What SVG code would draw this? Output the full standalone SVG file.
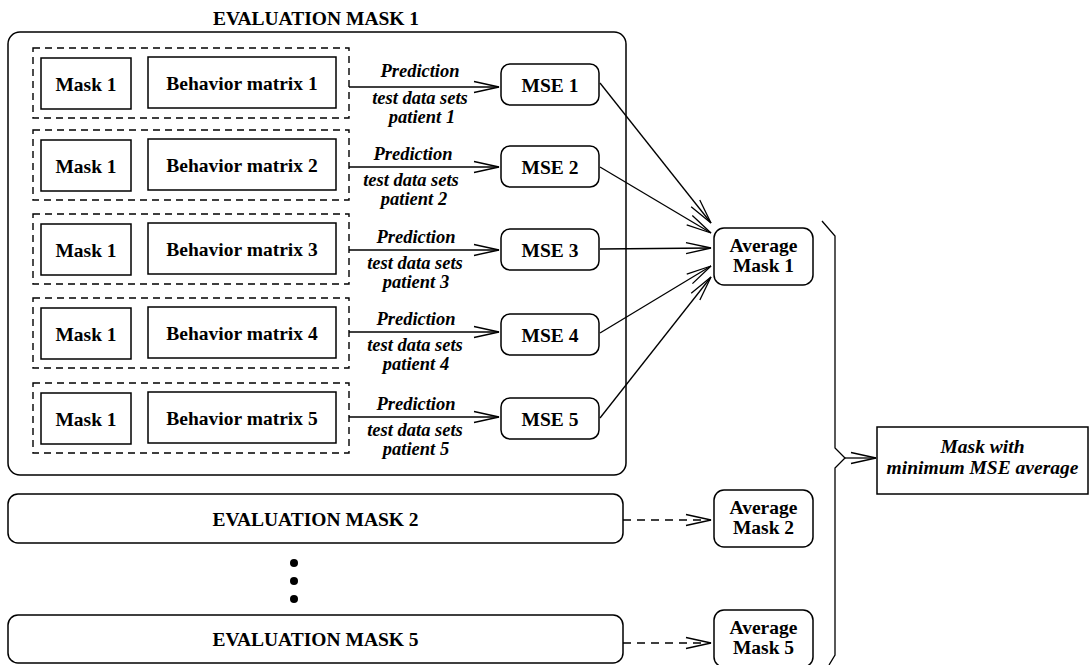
<svg xmlns="http://www.w3.org/2000/svg" width="1092" height="665" viewBox="0 0 1092 665">
  <style>
    .box { fill: #fff; stroke: #000; stroke-width: 1.5; }
    .dash { fill: none; stroke: #000; stroke-width: 1.4; stroke-dasharray: 7 5; }
    .ln { fill: none; stroke: #000; stroke-width: 1.3; }
    .dl { fill: none; stroke: #000; stroke-width: 1.3; stroke-dasharray: 8 6; }
    .t { font-family: "Liberation Serif", "Times New Roman", serif; font-weight: bold; font-size: 19.5px; fill: #000; text-anchor: middle; }
    .i { font-style: italic; }
    .s { font-size: 18.5px; }
  </style>
  <defs>
    <marker id="open" markerUnits="userSpaceOnUse" markerWidth="28" markerHeight="14" refX="25" refY="6" orient="auto" overflow="visible">
      <path d="M0,0.5 L25,6 L0,11.5" fill="none" stroke="#000" stroke-width="1.3" stroke-dasharray="none"/>
    </marker>
  </defs>

  <!-- evaluation of mask 1 -->
  <g id="eval-mask-1">
    <text class="t" x="316" y="25">EVALUATION MASK 1</text>
    <rect class="box" x="8" y="32" width="618" height="443" rx="12"/>
  </g>

  <!-- five mask / behavior-matrix pairs -->
  <g id="pair-1">
    <rect class="dash" x="33" y="48" width="316" height="70"/>
    <rect class="box" x="41" y="58" width="90" height="51"/>
    <text class="t" x="86" y="90.5">Mask 1</text>
    <rect class="box" x="148" y="57" width="188" height="51"/>
    <text class="t" x="242" y="90">Behavior matrix 1</text>
  </g>
  <g id="pair-2">
    <rect class="dash" x="33" y="130" width="316" height="70"/>
    <rect class="box" x="41" y="140" width="90" height="51"/>
    <text class="t" x="86" y="172.5">Mask 1</text>
    <rect class="box" x="148" y="139" width="188" height="51"/>
    <text class="t" x="242" y="172">Behavior matrix 2</text>
  </g>
  <g id="pair-3">
    <rect class="dash" x="33" y="214" width="316" height="70"/>
    <rect class="box" x="41" y="224" width="90" height="51"/>
    <text class="t" x="86" y="256.5">Mask 1</text>
    <rect class="box" x="148" y="223" width="188" height="51"/>
    <text class="t" x="242" y="256">Behavior matrix 3</text>
  </g>
  <g id="pair-4">
    <rect class="dash" x="33" y="298" width="316" height="70"/>
    <rect class="box" x="41" y="308" width="90" height="51"/>
    <text class="t" x="86" y="340.5">Mask 1</text>
    <rect class="box" x="148" y="307" width="188" height="51"/>
    <text class="t" x="242" y="340">Behavior matrix 4</text>
  </g>
  <g id="pair-5">
    <rect class="dash" x="33" y="383" width="316" height="70"/>
    <rect class="box" x="41" y="393" width="90" height="51"/>
    <text class="t" x="86" y="425.5">Mask 1</text>
    <rect class="box" x="148" y="392" width="188" height="51"/>
    <text class="t" x="242" y="425">Behavior matrix 5</text>
  </g>

  <!-- MSE nodes -->
  <g id="mse-1"><rect class="box" x="501" y="64" width="98" height="41" rx="9"/><text class="t" x="550" y="91.5">MSE 1</text></g>
  <g id="mse-2"><rect class="box" x="501" y="146" width="98" height="41" rx="9"/><text class="t" x="550" y="173.5">MSE 2</text></g>
  <g id="mse-3"><rect class="box" x="501" y="229" width="98" height="41" rx="9"/><text class="t" x="550" y="256.5">MSE 3</text></g>
  <g id="mse-4"><rect class="box" x="501" y="314" width="98" height="41" rx="9"/><text class="t" x="550" y="341.5">MSE 4</text></g>
  <g id="mse-5"><rect class="box" x="501" y="398" width="98" height="41" rx="9"/><text class="t" x="550" y="425.5">MSE 5</text></g>

  <!-- averages -->
  <g id="average-1">
    <rect class="box" x="714" y="228" width="99" height="57" rx="10"/>
    <text class="t" x="763.5" y="251.5">Average</text>
    <text class="t" x="763.5" y="271.5">Mask 1</text>
  </g>
  <g id="average-2">
    <rect class="box" x="714" y="490" width="99" height="57" rx="10"/>
    <text class="t" x="763.5" y="513.5">Average</text>
    <text class="t" x="763.5" y="533.5">Mask 2</text>
  </g>
  <g id="average-5">
    <rect class="box" x="714" y="610" width="99" height="57" rx="10"/>
    <text class="t" x="763.5" y="633.5">Average</text>
    <text class="t" x="763.5" y="653.5">Mask 5</text>
  </g>

  <!-- collapsed evaluations -->
  <g id="eval-mask-2">
    <rect class="box" x="8" y="494" width="615" height="49" rx="10"/>
    <text class="t" x="315.5" y="525.5">EVALUATION MASK 2</text>
  </g>
  <g id="ellipsis">
    <circle cx="294" cy="563" r="4"/>
    <circle cx="294" cy="581" r="4"/>
    <circle cx="294" cy="599" r="4"/>
  </g>
  <g id="eval-mask-5">
    <rect class="box" x="8" y="615" width="615" height="48" rx="10"/>
    <text class="t" x="315.5" y="646">EVALUATION MASK 5</text>
  </g>

  <!-- result -->
  <g id="result">
    <rect class="box" x="877" y="427" width="211" height="67"/>
    <text class="t i" x="982.5" y="453">Mask with</text>
    <text class="t i" x="982.5" y="474">minimum MSE average</text>
  </g>

  <!-- connectors -->
  <g id="connectors">
    <line class="ln" x1="349" y1="87" x2="499" y2="87" marker-end="url(#open)"/>
    <line class="ln" x1="349" y1="167" x2="499" y2="167" marker-end="url(#open)"/>
    <line class="ln" x1="349" y1="250" x2="499" y2="250" marker-end="url(#open)"/>
    <line class="ln" x1="349" y1="332" x2="499" y2="332" marker-end="url(#open)"/>
    <line class="ln" x1="349" y1="417" x2="499" y2="417" marker-end="url(#open)"/>

    <!-- edge labels: prediction above, test data below -->
    <text class="t i s" x="420" y="77">Prediction</text>
    <text class="t i s" x="420" y="104">test data sets</text>
    <text class="t i s" x="422" y="123">patient 1</text>
    <text class="t i s" x="413" y="160">Prediction</text>
    <text class="t i s" x="411" y="186">test data sets</text>
    <text class="t i s" x="414" y="205">patient 2</text>
    <text class="t i s" x="416" y="243">Prediction</text>
    <text class="t i s" x="415" y="269">test data sets</text>
    <text class="t i s" x="416" y="288">patient 3</text>
    <text class="t i s" x="416" y="325">Prediction</text>
    <text class="t i s" x="415" y="351">test data sets</text>
    <text class="t i s" x="416" y="370">patient 4</text>
    <text class="t i s" x="416" y="410">Prediction</text>
    <text class="t i s" x="415" y="436">test data sets</text>
    <text class="t i s" x="416" y="455">patient 5</text>

    <line class="ln" x1="600" y1="83" x2="711" y2="223" marker-end="url(#open)"/>
    <line class="ln" x1="600" y1="167" x2="711" y2="233" marker-end="url(#open)"/>
    <line class="ln" x1="600" y1="249" x2="711" y2="248" marker-end="url(#open)"/>
    <line class="ln" x1="600" y1="333" x2="711" y2="266" marker-end="url(#open)"/>
    <line class="ln" x1="600" y1="418" x2="711" y2="277" marker-end="url(#open)"/>

    <line class="dl" x1="623" y1="520" x2="711" y2="520" marker-end="url(#open)"/>
    <line class="dl" x1="623" y1="643" x2="711" y2="643" marker-end="url(#open)"/>

    <!-- brace gathering the averages -->
    <path class="ln" d="M822,221 L835,236 L835,448 L845,458 L835,468 L835,655 L829,665"/>
    <line class="ln" x1="845" y1="458" x2="876" y2="458" marker-end="url(#open)"/>
  </g>
</svg>
